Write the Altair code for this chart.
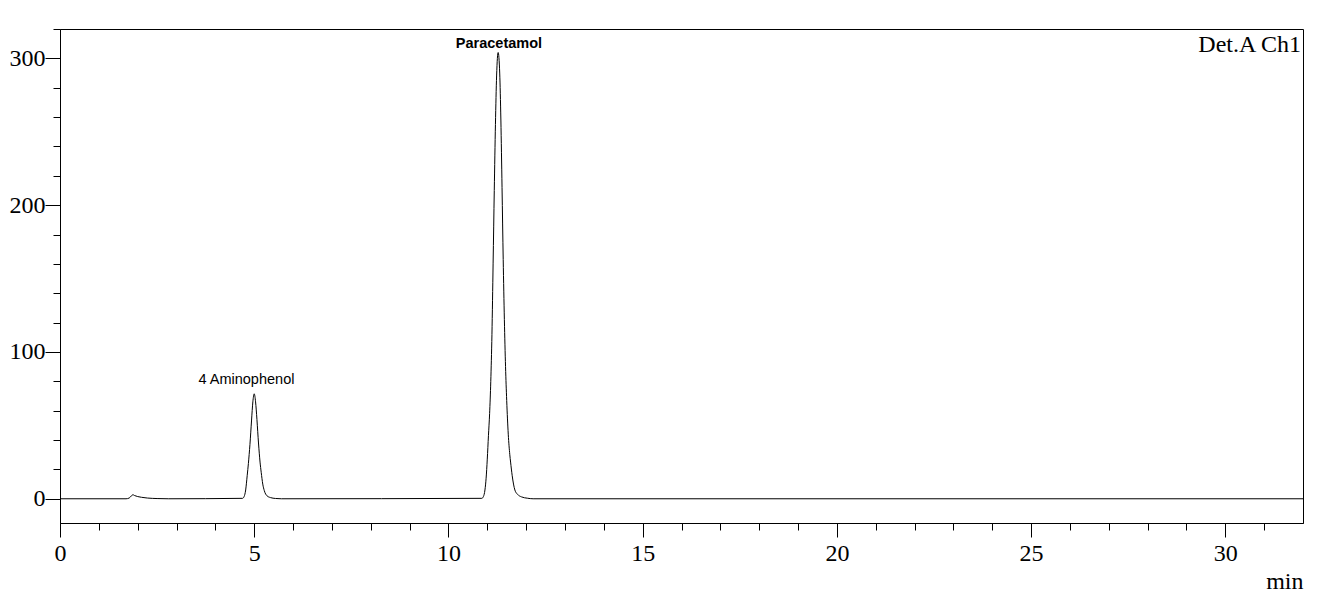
import altair as alt
import pandas as pd

# Chromatogram trace (time in min, signal in mAU)
time_min = [0, 1.70, 1.78, 1.84, 1.875, 1.92, 2.0, 2.1, 2.25, 2.5, 2.8,
            4.70, 4.74, 4.78, 4.82, 4.85, 4.89, 4.93, 4.965, 5.00, 5.035, 5.07, 5.11,
            5.15, 5.18, 5.22, 5.26, 5.33, 5.42, 5.55, 5.70,
            10.86, 10.90, 10.94, 10.97, 11.00, 11.03, 11.06, 11.09, 11.12, 11.15, 11.18,
            11.21, 11.24, 11.28, 11.32, 11.35, 11.38, 11.41, 11.44, 11.47, 11.50, 11.54,
            11.58, 11.60, 11.64, 11.71, 11.78, 11.88, 12.03, 12.18,
            32]
signal_mau = [0, 0, 0.5, 2.0, 2.8, 2.2, 1.5, 1.0, 0.5, 0.15, 0,
              0.3, 1.5, 6, 16, 24, 37, 53, 66, 71.5, 66, 54, 38,
              25, 18, 10, 5.5, 2, 0.8, 0.2, 0,
              0.3, 1.5, 6, 14, 27, 43, 58, 80, 112, 160, 210,
              255, 288, 304, 290, 258, 212, 163, 122, 90, 67, 44,
              30, 25, 16, 6, 3, 1.3, 0.4, 0,
              0]

# Peak annotations
peak_names = ["4 Aminophenol", "Paracetamol"]
peak_label_time = [4.80, 11.30]
peak_label_value = [78.5, 307.0]
peak_bold = [False, True]

detector_label = "Det.A Ch1"
x_axis_title = "min"

x_tick_values = list(range(0, 32))
y_tick_values = list(range(0, 321, 20))

df = pd.DataFrame({"time": time_min, "signal": signal_mau})
labels = pd.DataFrame({"name": peak_names, "time": peak_label_time,
                       "value": peak_label_value, "bold": peak_bold})

W, H = 1243, 494

x_scale = alt.Scale(domain=[0, 32], nice=False, zero=False)
y_scale = alt.Scale(domain=[-16.5, 320], nice=False, zero=False)

x_axis = alt.Axis(
    values=x_tick_values, tickCount=100, format="d",
    labelExpr="datum.value % 5 === 0 ? datum.label : ''",
    tickSize={"condition": {"test": "datum.value % 5 === 0", "value": 14}, "value": 7},
    labelPadding=4,
    labelFont="Liberation Serif", labelFontSize=24, labelColor="black",
    labelBaseline="top", labelFlush=False, labelOverlap=False,
    grid=False,
    title=x_axis_title, titleFont="Liberation Serif", titleFontSize=24,
    titleFontWeight="normal", titleColor="black",
    titleX=W, titleY=65, titleAlign="right", titleBaseline="alphabetic", titleAngle=0,
)
y_axis = alt.Axis(
    values=y_tick_values, tickCount=100, format="d",
    labelExpr="datum.value % 100 === 0 ? datum.label : ''",
    tickSize={"condition": {"test": "datum.value % 100 === 0", "value": 15}, "value": 7},
    labelPadding=0,
    labelFont="Liberation Serif", labelFontSize=24, labelColor="black",
    labelBaseline="middle", labelFlush=False, labelOverlap=False,
    grid=False, title=None,
)

line = alt.Chart(df).mark_line(color="black", strokeWidth=1, interpolate="monotone", clip=True).encode(
    x=alt.X("time:Q", scale=x_scale, axis=x_axis),
    y=alt.Y("signal:Q", scale=y_scale, axis=y_axis),
)

normal_text = alt.Chart(labels).transform_filter("!datum.bold").mark_text(
    font="Liberation Sans", fontSize=14.5, align="center", baseline="alphabetic", color="black"
).encode(
    x=alt.X("time:Q", scale=x_scale),
    y=alt.Y("value:Q", scale=y_scale),
    text="name:N",
)
bold_text = alt.Chart(labels).transform_filter("datum.bold").mark_text(
    font="Liberation Sans", fontSize=14.5, fontWeight="bold", align="center",
    baseline="alphabetic", color="black"
).encode(
    x=alt.X("time:Q", scale=x_scale),
    y=alt.Y("value:Q", scale=y_scale),
    text="name:N",
)

det = alt.Chart(pd.DataFrame({"t": [detector_label]})).mark_text(
    font="Liberation Serif", fontSize=24, align="right", baseline="alphabetic", color="black"
).encode(
    x=alt.value(W - 2), y=alt.value(23), text="t:N"
)

chart = alt.layer(line, normal_text, bold_text, det).properties(
    width=W, height=H,
    padding={"left": 52, "top": 21, "right": 10, "bottom": 70},
    autosize=alt.AutoSizeParams(type="none"),
    background="white",
).configure_view(
    stroke="black", strokeWidth=1
).configure_axis(
    domainColor="black", tickColor="black", tickWidth=1, domainWidth=1
)

chart.save("out.html", embed_options={"renderer": "svg", "actions": False})
